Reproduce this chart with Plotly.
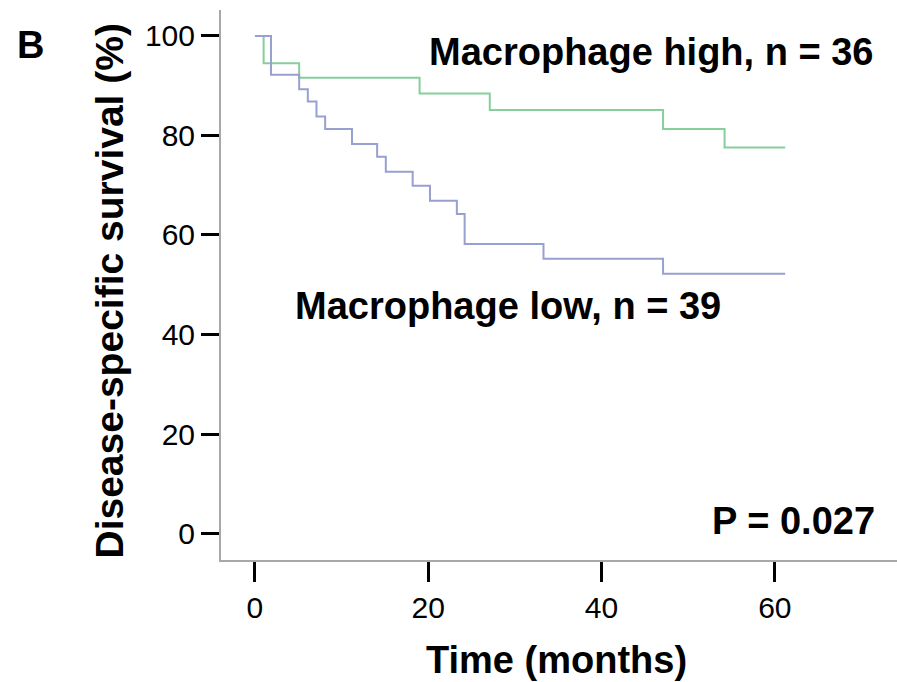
import plotly.graph_objects as go

# Kaplan-Meier step data (months, % survival)
high_time = [0, 1.0, 5.1, 19.0, 27.1, 47.1, 54.2, 61.2]
high_surv = [100, 94.5, 91.6, 88.4, 85.1, 81.3, 77.6, 77.6]

low_time = [0, 1.85, 5.1, 6.1, 7.1, 8.1, 11.2, 14.1, 15.1, 18.2, 20.2, 23.3, 24.2, 33.3, 47.1, 61.2]
low_surv = [100, 92.2, 89.3, 86.8, 83.8, 81.3, 78.3, 75.7, 72.7, 69.9, 66.9, 64.2, 58.2, 55.2, 52.2, 52.2]

x_ticks = [0, 20, 40, 60]
y_ticks = [0, 20, 40, 60, 80, 100]

high_label = "Macrophage high, n = 36"
low_label = "Macrophage low, n = 39"
p_label = "P = 0.027"

FONT = "Liberation Sans, Arial, sans-serif"

fig = go.Figure()
fig.add_trace(go.Scatter(x=high_time, y=high_surv, mode="lines",
                         line=dict(shape="hv", color="#86cf9c", width=2),
                         showlegend=False, hoverinfo="skip"))
fig.add_trace(go.Scatter(x=low_time, y=low_surv, mode="lines",
                         line=dict(shape="hv", color="#98a0d0", width=2),
                         showlegend=False, hoverinfo="skip"))

bold = dict(family=FONT, size=38, color="black")

fig.update_layout(
    width=897, height=682,
    margin=dict(l=221, r=0, t=10, b=122),
    paper_bgcolor="white", plot_bgcolor="white",
    font=dict(family=FONT, color="black"),
    xaxis=dict(range=[-3.92, 74.1], tickvals=x_ticks, ticktext=[str(v) for v in x_ticks],
               showline=True, linecolor="#a8a8a8", linewidth=2,
               ticks="outside", ticklen=20, tickwidth=3, tickcolor="black",
               tickfont=dict(family=FONT, size=30, color="black"),
               showgrid=False, zeroline=False, fixedrange=True),
    yaxis=dict(range=[-5.3, 105.2], tickvals=y_ticks, ticktext=[str(v) for v in y_ticks],
               showline=True, linecolor="#a8a8a8", linewidth=2,
               ticks="outside", ticklen=18, tickwidth=3, tickcolor="black",
               tickfont=dict(family=FONT, size=30, color="black"),
               showgrid=False, zeroline=False, fixedrange=True),
    annotations=[
        dict(text="<b>B</b>", xref="paper", yref="paper", x=-0.305, y=0.937,
             xanchor="left", yanchor="middle", showarrow=False, font=bold),
        dict(text="<b>Disease-specific survival (%)</b>", xref="paper", yref="paper",
             x=-0.165, y=0.489, xanchor="center", yanchor="middle", textangle=-90,
             showarrow=False, font=dict(family=FONT, size=39, color="black")),
        dict(text="<b>Time (months)</b>", xref="paper", yref="paper",
             x=0.497, y=-0.182, xanchor="center", yanchor="middle",
             showarrow=False, font=bold),
        dict(text="<b>" + high_label + "</b>", xref="x", yref="y", x=19.8, y=96.7,
             xanchor="left", yanchor="middle", showarrow=False, font=bold),
        dict(text="<b>" + low_label + "</b>", xref="x", yref="y", x=4.4, y=45.8,
             xanchor="left", yanchor="middle", showarrow=False, font=bold),
        dict(text="<b>" + p_label + "</b>", xref="x", yref="y", x=71.8, y=2.6,
             xanchor="right", yanchor="middle", showarrow=False, font=bold),
    ],
)

fig.write_html("out.html")
